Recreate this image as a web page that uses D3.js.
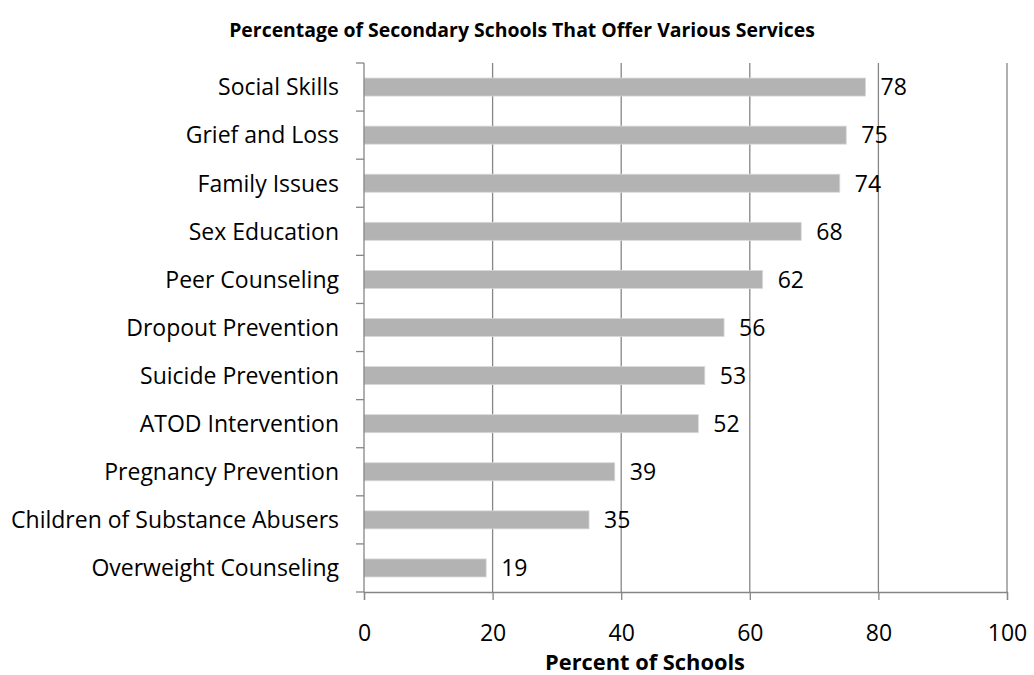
<!DOCTYPE html>
<html>
<head>
<meta charset="utf-8">
<script src="https://cdn.jsdelivr.net/npm/d3@7"></script>
<style>
  body { margin: 0; background: #fff; }
  svg text { font-family: "Open Sans", sans-serif; fill: #000; }
</style>
</head>
<body>
<svg id="chart" width="1034" height="675"></svg>
<script>
// Data
const categories = [
  "Social Skills",
  "Grief and Loss",
  "Family Issues",
  "Sex Education",
  "Peer Counseling",
  "Dropout Prevention",
  "Suicide Prevention",
  "ATOD Intervention",
  "Pregnancy Prevention",
  "Children of Substance Abusers",
  "Overweight Counseling"
];
const values = [78, 75, 74, 68, 62, 56, 53, 52, 39, 35, 19];
const xTicks = [0, 20, 40, 60, 80, 100];

const title = "Percentage of Secondary Schools That Offer Various Services";
const xTitle = "Percent of Schools";

const svg = d3.select("#chart");

// Set the dimensions and margins of the plot
const margin = { top: 63, right: 27, bottom: 83, left: 364 };
const width = 1034 - margin.left - margin.right;
const height = 675 - margin.top - margin.bottom;

// scale a text's font size so it spans a given width
const fitFont = (sel, target, size) => {
  sel.style("font-size", size + "px");
  const w = sel.node().getComputedTextLength();
  return size * target / w;
};

const g = svg.append("g")
  .attr("transform", `translate(${margin.left},${margin.top})`);

// Scales
const x = d3.scaleLinear().domain([0, 100]).range([0, width]);
const y = d3.scaleBand().domain(categories).range([0, height]).paddingInner(0.625).paddingOuter(0.3125);
const yb = d3.scaleBand().domain(categories).range([0, height]);

// Vertical gridlines
g.append("g")
  .selectAll("line")
  .data(xTicks.slice(1))
  .enter()
  .append("line")
  .attr("x1", (d) => x(d))
  .attr("x2", (d) => x(d))
  .attr("y1", 0)
  .attr("y2", height)
  .attr("stroke", "#868686")
  .attr("stroke-width", 1.3);

// Bars
g.append("g")
  .selectAll("rect")
  .data(values)
  .enter()
  .append("rect")
  .attr("x", 0)
  .attr("y", (d, i) => y(categories[i]))
  .attr("width", (d) => x(d))
  .attr("height", y.bandwidth())
  .attr("fill", "#b3b3b3")
  .attr("stroke", "#d9d9d9")
  .attr("stroke-width", 0.8);

// Y axis: line with ticks at category boundaries
const yAxis = g.append("g");
yAxis.append("line")
  .attr("x1", 0).attr("x2", 0)
  .attr("y1", 0).attr("y2", height)
  .attr("stroke", "#868686").attr("stroke-width", 1.3);
yAxis.selectAll(".ytick")
  .data(categories.concat([null]))
  .enter()
  .append("line")
  .attr("class", "ytick")
  .attr("x1", -8).attr("x2", 0)
  .attr("y1", (d, i) => i < categories.length ? yb(d) : height)
  .attr("y2", (d, i) => i < categories.length ? yb(d) : height)
  .attr("stroke", "#868686").attr("stroke-width", 1.3);
const ylabels = yAxis.selectAll(".ylabel")
  .data(categories)
  .enter()
  .append("text")
  .attr("class", "ylabel")
  .attr("x", -25)
  .attr("y", (d) => yb(d) + yb.bandwidth() / 2)
  .attr("dy", "0.36em")
  .attr("text-anchor", "end")
  .text((d) => d);

// font size from the longest label
const longest = ylabels.filter((d) => d === "Children of Substance Abusers");
const fs = fitFont(longest, 328, 20);
ylabels.style("font-size", fs + "px");

// Value labels
g.append("g")
  .selectAll("text")
  .data(values)
  .enter()
  .append("text")
  .attr("x", (d) => x(d) + 15)
  .attr("y", (d, i) => y(categories[i]) + y.bandwidth() / 2)
  .attr("dy", "0.36em")
  .style("font-size", fs + "px")
  .text((d) => d);

// X axis
const xAxis = g.append("g")
  .attr("transform", `translate(0,${height})`)
  .call(d3.axisBottom(x).tickValues(xTicks).tickSize(8));
xAxis.select(".domain").attr("stroke", "#868686").attr("stroke-width", 1.3);
xAxis.selectAll(".tick line").attr("stroke", "#868686").attr("stroke-width", 1.3);
xAxis.selectAll(".tick text")
  .attr("y", 49)
  .attr("dy", 0)
  .style("font-size", fs + "px")
  .style("font-family", "'Open Sans', sans-serif")
  .attr("fill", "#000");

// X axis title
const xt = svg.append("text")
  .attr("x", 645)
  .attr("y", 670)
  .attr("text-anchor", "middle")
  .style("font-weight", "bold")
  .text(xTitle);
xt.style("font-size", fitFont(xt, 200, 18) + "px");

// Chart title
const tt = svg.append("text")
  .attr("x", 522)
  .attr("y", 37)
  .attr("text-anchor", "middle")
  .style("font-weight", "bold")
  .text(title);
tt.style("font-size", fitFont(tt, 586, 15) + "px");
</script>
</body>
</html>
